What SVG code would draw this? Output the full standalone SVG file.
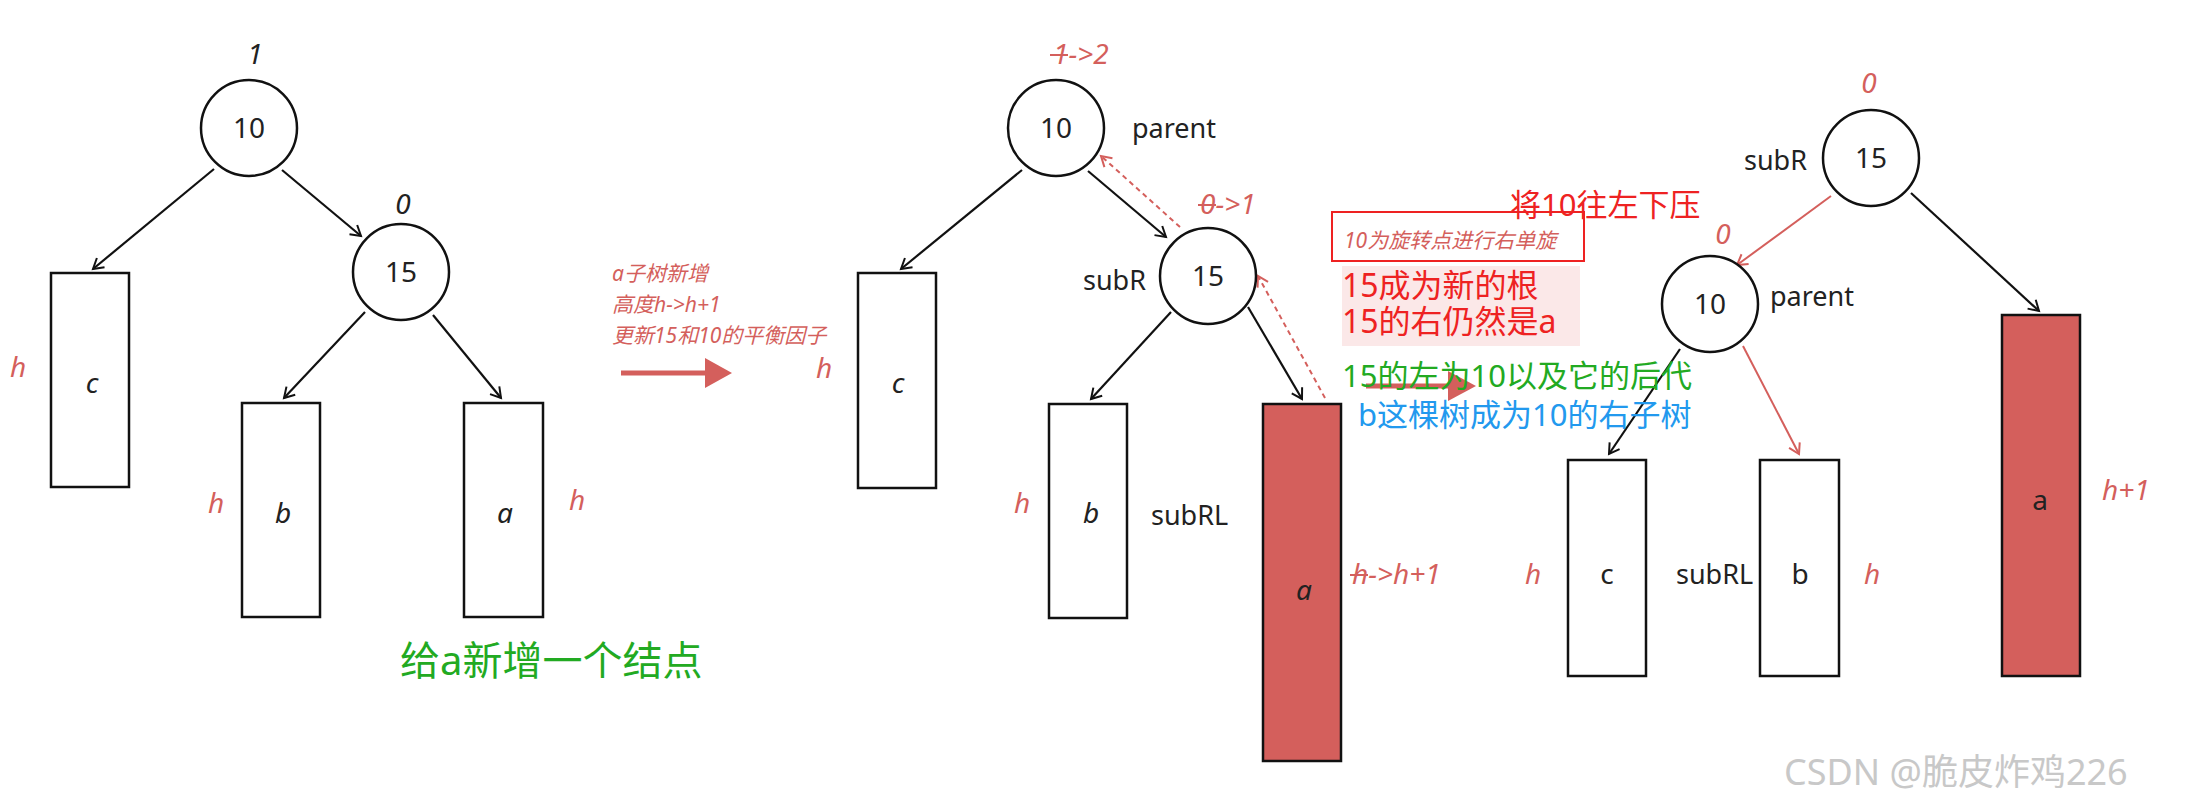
<svg xmlns="http://www.w3.org/2000/svg" width="2193" height="807" viewBox="0 0 2193 807">
<style>
text{font-family:"Noto Sans","Noto Sans CJK SC",sans-serif}
.n{font-size:28px;fill:#222;text-anchor:middle}
.s{font-size:28px;text-anchor:start}
.it{font-style:italic}
.r{fill:#d45f5c}
.lbl{font-size:27px;fill:#222}
.e{stroke:#111;stroke-width:2.2;fill:none}
.er{stroke:#d45f5c;stroke-width:2;fill:none}
.dr{stroke:#d45f5c;stroke-width:2;fill:none;stroke-dasharray:5,4}
circle{fill:#fff;stroke:#111;stroke-width:2.5}
rect.w{fill:#fff;stroke:#111;stroke-width:2.5}
rect.f{fill:#d45f5c;stroke:#111;stroke-width:2.5}
</style>
<defs>
<marker id="ab" markerWidth="16" markerHeight="16" refX="13" refY="8" orient="auto" markerUnits="userSpaceOnUse"><path d="M3,2 L13,8 L3,14" fill="none" stroke="#111" stroke-width="2"/></marker>
<marker id="ar" markerWidth="16" markerHeight="16" refX="13" refY="8" orient="auto" markerUnits="userSpaceOnUse"><path d="M3,2 L13,8 L3,14" fill="none" stroke="#d45f5c" stroke-width="2"/></marker>
</defs>
<rect width="2193" height="807" fill="#fff"/>

<g id="connectors">
<line class="e" x1="214" y1="169" x2="93" y2="269" marker-end="url(#ab)"/>
<line class="e" x1="282" y1="170" x2="361" y2="236" marker-end="url(#ab)"/>
<line class="e" x1="365" y1="312" x2="284" y2="398" marker-end="url(#ab)"/>
<line class="e" x1="433" y1="315" x2="501" y2="398" marker-end="url(#ab)"/>
<line class="e" x1="1022" y1="170" x2="901" y2="269" marker-end="url(#ab)"/>
<line class="e" x1="1088" y1="171" x2="1166" y2="237" marker-end="url(#ab)"/>
<line class="e" x1="1171" y1="312" x2="1091" y2="399" marker-end="url(#ab)"/>
<line class="e" x1="1248" y1="307" x2="1302" y2="399" marker-end="url(#ab)"/>
<line class="dr" x1="1180" y1="227" x2="1101" y2="156" marker-end="url(#ar)"/>
<line class="dr" x1="1325" y1="398" x2="1258" y2="276" marker-end="url(#ar)"/>
<line class="er" x1="1831" y1="196" x2="1737" y2="265" marker-end="url(#ar)"/>
<line class="e" x1="1911" y1="193" x2="2039" y2="311" marker-end="url(#ab)"/>
<line class="e" x1="1680" y1="349" x2="1609" y2="454" marker-end="url(#ab)"/>
<line class="er" x1="1743" y1="346" x2="1799" y2="454" marker-end="url(#ar)"/>
<line x1="621" y1="373" x2="708" y2="373" stroke="#d45f5c" stroke-width="5"/>
<polygon points="705,358 732,373 705,388" fill="#d45f5c"/>
<line x1="1366" y1="386" x2="1450" y2="386" stroke="#d45f5c" stroke-width="5"/>
<polygon points="1448,371 1476,386 1448,401" fill="#d45f5c"/>
</g>

<g id="d1">
<circle cx="249" cy="128" r="48"/><text class="n" x="249" y="138">10</text>
<text class="n it" x="255" y="64">1</text>
<circle cx="401" cy="272" r="48"/><text class="n" x="401" y="282">15</text>
<text class="n it" x="403" y="214">0</text>
<rect class="w" x="51" y="273" width="78" height="214"/><text class="n it" x="92" y="393">c</text>
<rect class="w" x="242" y="403" width="78" height="214"/><text class="n it" x="283" y="523">b</text>
<rect class="w" x="464" y="403" width="79" height="214"/><text class="n it" x="505" y="523">a</text>
<text class="n it r" x="18" y="377">h</text>
<text class="n it r" x="216" y="513">h</text>
<text class="n it r" x="577" y="510">h</text>
<g class="it r" font-size="21"><text x="612" y="281">a子树新增</text><text x="612" y="312">高度h-&gt;h+1</text><text x="612" y="343">更新15和10的平衡因子</text></g>
<text x="400" y="675" font-size="40" fill="#22aa22">给a新增一个结点</text>
</g>

<g id="d2">
<circle cx="1056" cy="128" r="48"/><text class="n" x="1056" y="138">10</text>
<text class="s it r" x="1053" y="64">1-&gt;2</text>
<line x1="1050" y1="55" x2="1068" y2="55" stroke="#d45f5c" stroke-width="2"/>
<text class="lbl" x="1132" y="138">parent</text>
<circle cx="1208" cy="276" r="48"/><text class="n" x="1208" y="286">15</text>
<text class="s it r" x="1200" y="214">0-&gt;1</text>
<line x1="1198" y1="205" x2="1216" y2="205" stroke="#d45f5c" stroke-width="2"/>
<text class="lbl" x="1083" y="290">subR</text>
<rect class="w" x="858" y="273" width="78" height="215"/><text class="n it" x="898" y="393">c</text>
<rect class="w" x="1049" y="404" width="78" height="214"/><text class="n it" x="1091" y="523">b</text>
<rect class="f" x="1263" y="404" width="78" height="357"/><text class="n it" x="1304" y="600">a</text>
<text class="lbl" x="1151" y="525">subRL</text>
<text class="n it r" x="824" y="378">h</text>
<text class="n it r" x="1022" y="513">h</text>
<text class="s it r" x="1352" y="584">h-&gt;h+1</text>
<line x1="1350" y1="575" x2="1368" y2="575" stroke="#d45f5c" stroke-width="2"/>
</g>

<g id="notes">
<rect x="1332" y="212" width="252" height="49" fill="none" stroke="#ee2222" stroke-width="2"/>
<text x="1344" y="248" font-size="21" class="it r">10为旋转点进行右单旋</text>
<text x="1510" y="216" font-size="31" fill="#ee2222">将10往左下压</text>
<rect x="1342" y="266" width="238" height="80" fill="#fbe8e8"/>
<text x="1342" y="297" font-size="32" fill="#ee2222">15成为新的根</text>
<text x="1342" y="333" font-size="32" fill="#ee2222">15的右仍然是a</text>
<text x="1342" y="387" font-size="31" fill="#22aa22">15的左为10以及它的后代</text>
<text x="1358" y="426" font-size="31" fill="#2299ee">b这棵树成为10的右子树</text>
</g>

<g id="d3">
<circle cx="1871" cy="158" r="48"/><text class="n" x="1871" y="168">15</text>
<text class="n it r" x="1869" y="93">0</text>
<text class="lbl" x="1744" y="170">subR</text>
<circle cx="1710" cy="304" r="48"/><text class="n" x="1710" y="314">10</text>
<text class="n it r" x="1723" y="244">0</text>
<text class="lbl" x="1770" y="306">parent</text>
<rect class="w" x="1568" y="460" width="78" height="216"/><text class="n" x="1607" y="584">c</text>
<rect class="w" x="1760" y="460" width="79" height="216"/><text class="n" x="1800" y="584">b</text>
<rect class="f" x="2002" y="315" width="78" height="361"/><text class="n" x="2040" y="510">a</text>
<text class="lbl" x="1676" y="584">subRL</text>
<text class="n it r" x="1533" y="584">h</text>
<text class="n it r" x="1872" y="584">h</text>
<text class="s it r" x="2102" y="500">h+1</text>
</g>
<text x="1784" y="785" font-size="36" fill="#c8c8c8">CSDN @脆皮炸鸡226</text>
</svg>
